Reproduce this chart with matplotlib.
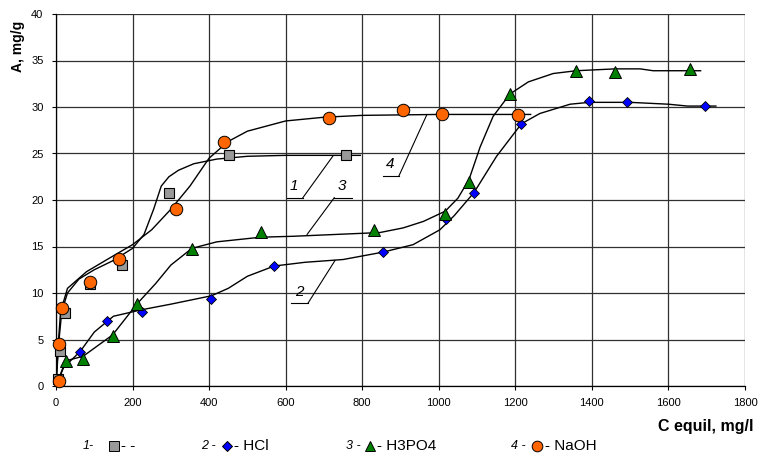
import matplotlib
matplotlib.use("Agg")
import matplotlib.pyplot as plt

plt.rcParams['font.family'] = ['Liberation Sans', 'DejaVu Sans']

# ---- data ----
sq_x = [5, 10, 23, 89, 172, 295, 453, 757]
sq_y = [0.7, 3.8, 7.8, 11.0, 13.0, 20.8, 24.8, 24.8]

hcl_x = [5, 63, 132, 224, 406, 569, 855, 1018, 1092, 1216, 1393, 1492, 1696]
hcl_y = [0.5, 3.7, 7.0, 8.0, 9.4, 12.9, 14.4, 18.0, 20.8, 28.2, 30.6, 30.5, 30.1]

h3_x = [25, 71, 148, 211, 355, 535, 832, 1017, 1079, 1186, 1359, 1461, 1656]
h3_y = [2.7, 2.9, 5.4, 8.8, 14.7, 16.6, 16.8, 18.5, 21.9, 31.4, 33.9, 33.8, 34.1]

na_x = [7, 7, 16, 89, 165, 313, 440, 714, 906, 1008, 1208]
na_y = [0.5, 4.5, 8.4, 11.2, 13.7, 19.0, 26.2, 28.8, 29.7, 29.2, 29.1]

# fitted curves
c1_x = [0, 3, 8, 15, 30, 60, 100, 150, 200, 230, 255, 275, 295, 320, 360, 420, 500, 600, 700, 795]
c1_y = [0, 2, 5, 8, 10, 11.5, 12.5, 13.5, 14.8, 16.3, 19.0, 21.5, 22.5, 23.2, 23.9, 24.4, 24.7, 24.8, 24.8, 24.8]

c2_x = [0, 20, 63, 100, 150, 224, 300, 406, 450, 500, 570, 650, 750, 855, 933, 1003, 1040, 1092, 1151, 1216, 1264, 1343, 1393, 1500, 1600, 1650, 1724]
c2_y = [0, 2.0, 3.7, 5.8, 7.5, 8.2, 8.8, 9.7, 10.5, 11.8, 12.9, 13.3, 13.6, 14.4, 15.2, 16.8, 18.3, 20.8, 24.7, 28.2, 29.3, 30.3, 30.5, 30.5, 30.3, 30.1, 30.1]

c3_x = [0, 25, 71, 148, 211, 260, 300, 355, 420, 535, 620, 846, 907, 960, 1017, 1050, 1079, 1108, 1142, 1186, 1234, 1299, 1359, 1461, 1526, 1560, 1684]
c3_y = [0, 2.7, 3.2, 5.5, 8.8, 11.0, 13.0, 14.8, 15.5, 16.0, 16.1, 16.5, 17.0, 17.7, 18.8, 20.2, 22.2, 25.7, 29.0, 31.4, 32.7, 33.6, 33.9, 34.1, 34.1, 33.9, 33.9]

c4_x = [0, 5, 12, 30, 80, 150, 200, 250, 300, 350, 400, 450, 500, 600, 700, 800, 1000, 1240]
c4_y = [0, 4, 8, 10.5, 12.3, 14.0, 15.2, 16.8, 19.0, 21.5, 24.5, 26.3, 27.4, 28.5, 28.9, 29.1, 29.2, 29.2]

x_ticks = [0, 200, 400, 600, 800, 1000, 1200, 1400, 1600, 1800]
y_ticks = [0, 5, 10, 15, 20, 25, 30, 35, 40]

# callout labels: (text, text_x, text_y, underline x0, x1, y, leader end x, y)
callouts = [
    ("1", 621, 20.7, 603, 645, 20.25, 723, 24.7),
    ("3", 748, 20.7, 727, 773, 20.25, 656, 16.3),
    ("2", 635, 9.4, 613, 659, 8.95, 729, 13.5),
    ("4", 874, 23.1, 855, 896, 22.6, 968, 29.1),
]

legend_items = [
    ("1-", "- -", 's', '#999999', 9),
    ("2 -", "- HCl", 'D', '#0000FF', 6),
    ("3 -", "- H3PO4", '^', '#008000', 8),
    ("4 -", "- NaOH", 'o', '#FF6600', 9),
]

W, H = 760, 457
fig = plt.figure(figsize=(W / 100, H / 100), dpi=100)
ax = fig.add_axes([56 / W, 1 - 386 / H, (745 - 56) / W, (386 - 14) / H])

ax.set_xlim(0, 1800)
ax.set_ylim(0, 40)
ax.set_xticks(x_ticks)
ax.set_yticks(y_ticks)
ax.tick_params(axis='both', labelsize=8, length=3, width=0.8, direction='out', pad=6, colors='black')
ax.grid(True, color='#303030', linewidth=0.9)
ax.set_axisbelow(True)
for s in ['top', 'right']:
    ax.spines[s].set_visible(False)
ax.spines['left'].set_linewidth(0.9)
ax.spines['bottom'].set_linewidth(0.9)

# curves
for cx, cy in [(c1_x, c1_y), (c2_x, c2_y), (c3_x, c3_y), (c4_x, c4_y)]:
    ax.plot(cx, cy, color='black', linewidth=1.0, zorder=3)

# markers
ax.plot(sq_x, sq_y, 's', ms=7.5, mfc='#999999', mec='black', mew=0.8, zorder=4, clip_on=False)
ax.plot(hcl_x, hcl_y, 'D', ms=5.5, mfc='#0000FF', mec='black', mew=0.6, zorder=4, clip_on=False)
ax.plot(h3_x, h3_y, '^', ms=8, mfc='#008000', mec='black', mew=0.7, zorder=4, clip_on=False)
ax.plot(na_x, na_y, 'o', ms=9, mfc='#FF6600', mec='black', mew=0.7, zorder=5, clip_on=False)

# callouts
for t, tx, ty, ux0, ux1, uy, lx, ly in callouts:
    ax.text(tx, ty, t, fontsize=11, style='italic', ha='center', va='bottom', zorder=6)
    start = ux1 if lx > ux1 else ux0
    ax.plot([ux0, ux1], [uy, uy], color='black', linewidth=0.8, zorder=6)
    ax.plot([start, lx], [uy, ly], color='black', linewidth=0.8, zorder=6)

# axis labels
fig.text(18 / W, 1 - 46 / H, "A, mg/g", rotation=90, fontsize=10, fontweight='bold',
         ha='center', va='center')
fig.text(753 / W, 1 - 427 / H, "C equil, mg/l", fontsize=11.5, fontweight='bold',
         ha='right', va='center')

# custom legend row
lx_pos = [(88, 114, 121), (208, 227, 234), (353, 370, 377), (518, 537, 545)]
for (num, lab, mk, col, ms), (nx, mx, tx) in zip(legend_items, lx_pos):
    fy = 1 - 446 / H
    fig.text(nx / W, fy, num, fontsize=9, style='italic', ha='center', va='center')
    fig.lines.append(matplotlib.lines.Line2D([mx / W], [fy], marker=mk, ms=ms * 0.85,
                                             mfc=col, mec='black', mew=0.7,
                                             transform=fig.transFigure))
    fig.text(tx / W, fy, lab, fontsize=11, ha='left', va='center')

fig.savefig("out.png", dpi=100)
